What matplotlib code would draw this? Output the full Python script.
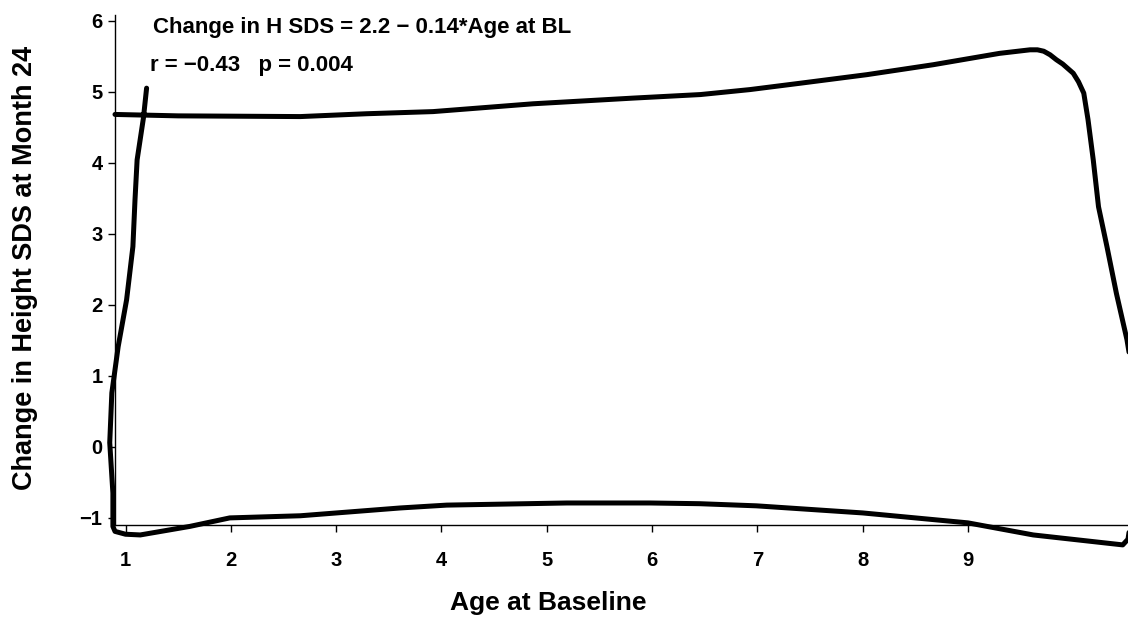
import matplotlib
matplotlib.use("Agg")
import matplotlib.pyplot as plt

# traced curve (age at baseline, change in height SDS), in drawing order
age = [1.20, 1.17, 1.11, 1.09, 1.07, 1.01, 0.93, 0.87, 0.85, 0.88, 0.88,
       0.90, 1.00, 1.14, 1.61, 1.99, 2.66, 3.61, 4.05, 5.19, 5.98, 6.45, 6.99, 8.00, 9.00, 9.62, 10.47,
       10.52, 10.60, 10.60, 10.51,
       10.41, 10.32, 10.24, 10.19, 10.14, 10.10, 10.05, 10.00, 9.90, 9.84, 9.78, 9.72, 9.66, 9.59,
       9.30, 8.67, 8.04, 7.41, 6.93, 6.46, 5.82, 4.87, 3.92, 3.29, 2.66, 1.50, 0.90]
sds = [5.05, 4.63, 4.04, 3.48, 2.82, 2.07, 1.41, 0.76, 0.06, -0.65, -1.12,
       -1.19, -1.23, -1.24, -1.12, -1.00, -0.97, -0.86, -0.82, -0.79, -0.79, -0.80, -0.83, -0.93, -1.07, -1.24, -1.38,
       -1.30, -0.50, 0.70, 1.51,
       2.16, 2.82, 3.38, 4.04, 4.61, 4.98, 5.14, 5.26, 5.39, 5.45, 5.52, 5.57, 5.59, 5.59,
       5.54, 5.38, 5.24, 5.12, 5.03, 4.96, 4.91, 4.83, 4.72, 4.69, 4.65, 4.66, 4.68]

xticks = [1, 2, 3, 4, 5, 6, 7, 8, 9]
yticks = [-1, 0, 1, 2, 3, 4, 5, 6]

eq_text = "Change in H SDS = 2.2 \u2212 0.14*Age at BL"
stat_text = "r = \u22120.43   p = 0.004"

plt.rcParams['font.family'] = ['Liberation Sans', 'DejaVu Sans']

W, H = 1128, 617
fig = plt.figure(figsize=(W / 100, H / 100), dpi=100)
ax = fig.add_axes([115 / W, 1 - 525 / H, 1 - 115 / W, (525 - 15) / H])

ax.plot(age, sds, color='black', lw=3.6, solid_joinstyle='round',
        solid_capstyle='round', clip_on=False)

ax.set_xlim(0.9, 10.52)
ax.set_ylim(-1.10, 6.08)
ax.set_xticks(xticks)
ax.set_yticks(yticks)
ax.tick_params(axis='x', direction='out', length=5, width=1, pad=14, labelsize=14.5)
ax.tick_params(axis='y', direction='out', length=5, width=1, pad=4, labelsize=14.5)
for lab in ax.get_xticklabels() + ax.get_yticklabels():
    lab.set_fontweight('bold')

for side in ['top', 'right']:
    ax.spines[side].set_visible(False)
for side in ['left', 'bottom']:
    ax.spines[side].set_linewidth(1.0)

fig.text(25 / W, 1 - 268 / H, "Change in Height SDS at Month 24", rotation=90,
         ha='center', va='center', fontsize=19.5, fontweight='bold')
fig.text(548 / W, 1 - 603 / H, "Age at Baseline", ha='center', va='center',
         fontsize=19, fontweight='bold')

fig.text(153 / W, 1 - 28 / H, eq_text, ha='left', va='center', fontsize=16, fontweight='bold')
fig.text(150 / W, 1 - 65 / H, stat_text, ha='left', va='center', fontsize=16, fontweight='bold')

fig.savefig("out.png", dpi=100)
